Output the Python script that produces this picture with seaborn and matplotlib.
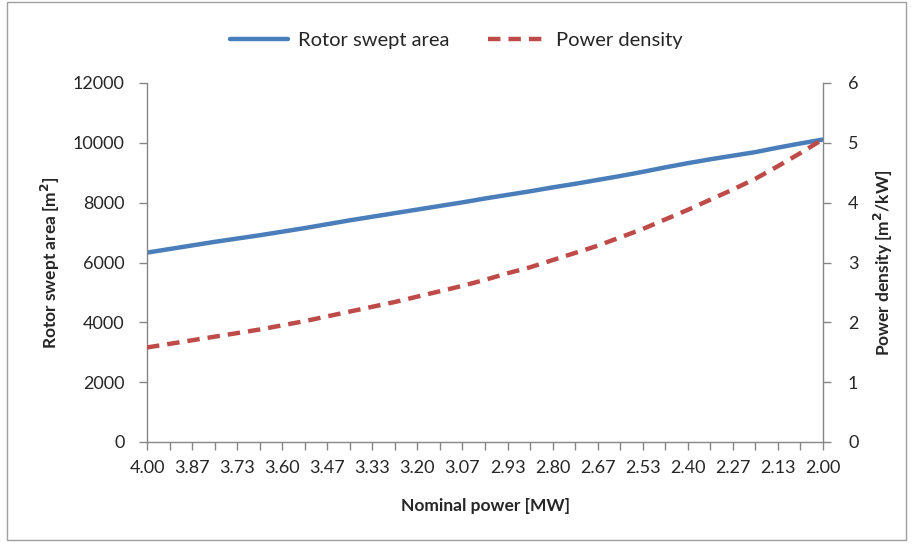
import matplotlib
matplotlib.use("Agg")
import matplotlib.pyplot as plt
import seaborn as sns
import pandas as pd
from matplotlib.patches import Rectangle

# ---- data ----
nominal_power = [4.000, 3.933, 3.867, 3.800, 3.733, 3.667, 3.600, 3.533, 3.467, 3.400,
                 3.333, 3.267, 3.200, 3.133, 3.067, 3.000, 2.933, 2.867, 2.800, 2.733,
                 2.667, 2.600, 2.533, 2.467, 2.400, 2.333, 2.267, 2.200, 2.133, 2.067, 2.000]
rotor_swept_area = [6330, 6450, 6570, 6690, 6800, 6910, 7030, 7150, 7280, 7410,
                    7530, 7650, 7770, 7890, 8010, 8140, 8260, 8380, 8510, 8630,
                    8760, 8890, 9030, 9180, 9320, 9450, 9570, 9690, 9840, 9980, 10110]
power_density = [1.58, 1.64, 1.70, 1.76, 1.82, 1.88, 1.95, 2.02, 2.10, 2.18,
                 2.26, 2.34, 2.43, 2.52, 2.61, 2.71, 2.82, 2.92, 3.04, 3.16,
                 3.28, 3.42, 3.56, 3.72, 3.88, 4.05, 4.22, 4.40, 4.61, 4.83, 5.06]
left_ticks = [0, 2000, 4000, 6000, 8000, 10000, 12000]
right_ticks = [0, 1, 2, 3, 4, 5, 6]

df = pd.DataFrame({
    "idx": list(range(len(nominal_power))),
    "power": nominal_power,
    "area": rotor_swept_area,
    "density": power_density,
})

sns.set_style("white")
plt.rcParams["font.family"] = ["Lato", "DejaVu Sans"]

BLUE = "#4A7EBB"
RED = "#BE4B48"
TXT = "#262626"
AX = "#868686"

fig = plt.figure(figsize=(9.13, 5.47), dpi=100)
ax = fig.add_axes([147 / 913, 1 - 442 / 547, (823 - 147) / 913, (442 - 83) / 547])
ax2 = ax.twinx()

sns.lineplot(data=df, x="idx", y="area", ax=ax, color=BLUE, lw=3.2,
             label="Rotor swept area", legend=False)
sns.lineplot(data=df, x="idx", y="density", ax=ax2, color=RED, lw=3.2,
             dashes=False, label="Power density", legend=False)
ax2.lines[0].set_dashes((2.8, 1.8))

n = len(nominal_power)
ax.set_xlim(0, n - 1)
ax.set_ylim(0, 12000)
ax2.set_ylim(0, 6)
ax.set_xticks(range(n))
ax.set_xticklabels([f"{p:.2f}" if i % 2 == 0 else "" for i, p in enumerate(nominal_power)])
ax.set_yticks(left_ticks)
ax.set_yticklabels([str(t) for t in left_ticks])
ax2.set_yticks(right_ticks)
ax2.set_yticklabels([str(t) for t in right_ticks])

for a in (ax, ax2):
    for s in a.spines.values():
        s.set_visible(False)
    a.grid(False)
ax.spines["left"].set_visible(True)
ax.spines["bottom"].set_visible(True)
ax2.spines["right"].set_visible(True)
for s in (ax.spines["left"], ax.spines["bottom"], ax2.spines["right"]):
    s.set_color(AX)
    s.set_linewidth(1.0)

ax.tick_params(axis="x", direction="out", length=6, width=1, color=AX,
               labelsize=13, labelcolor=TXT, pad=7, bottom=True)
ax.tick_params(axis="y", direction="out", length=6, width=1, color=AX,
               labelsize=13, labelcolor=TXT, pad=10, left=True)
ax2.tick_params(axis="y", direction="out", length=6, width=1, color=AX,
                labelsize=13, labelcolor=TXT, pad=12, right=True)

ax.set_xlabel("Nominal power [MW]", fontsize=12.5, fontweight="bold", color=TXT, labelpad=16)
ax.set_ylabel("Rotor swept area [m$^\\mathbf{2}$]", fontsize=12.5, fontweight="bold",
              color=TXT, labelpad=8)
ax2.set_ylabel("Power density [m$^\\mathbf{2}$/kW]", fontsize=12.5, fontweight="bold",
               color=TXT, labelpad=10)

h1, l1 = ax.get_legend_handles_labels()
h2, l2 = ax2.get_legend_handles_labels()
fig.legend(h1 + h2, l1 + l2, loc="center", bbox_to_anchor=(0.5, 1 - 40 / 547), ncol=2,
           frameon=False, fontsize=14.5, handlelength=2.9, columnspacing=1.9,
           handletextpad=0.5, labelcolor=TXT)

fig.patches.append(Rectangle((7 / 913, 1 - 540 / 547), 899 / 913, 538 / 547,
                             transform=fig.transFigure, fill=False,
                             edgecolor="#A0A0A0", lw=1.0))

fig.savefig("out.png", dpi=100, facecolor="white")
